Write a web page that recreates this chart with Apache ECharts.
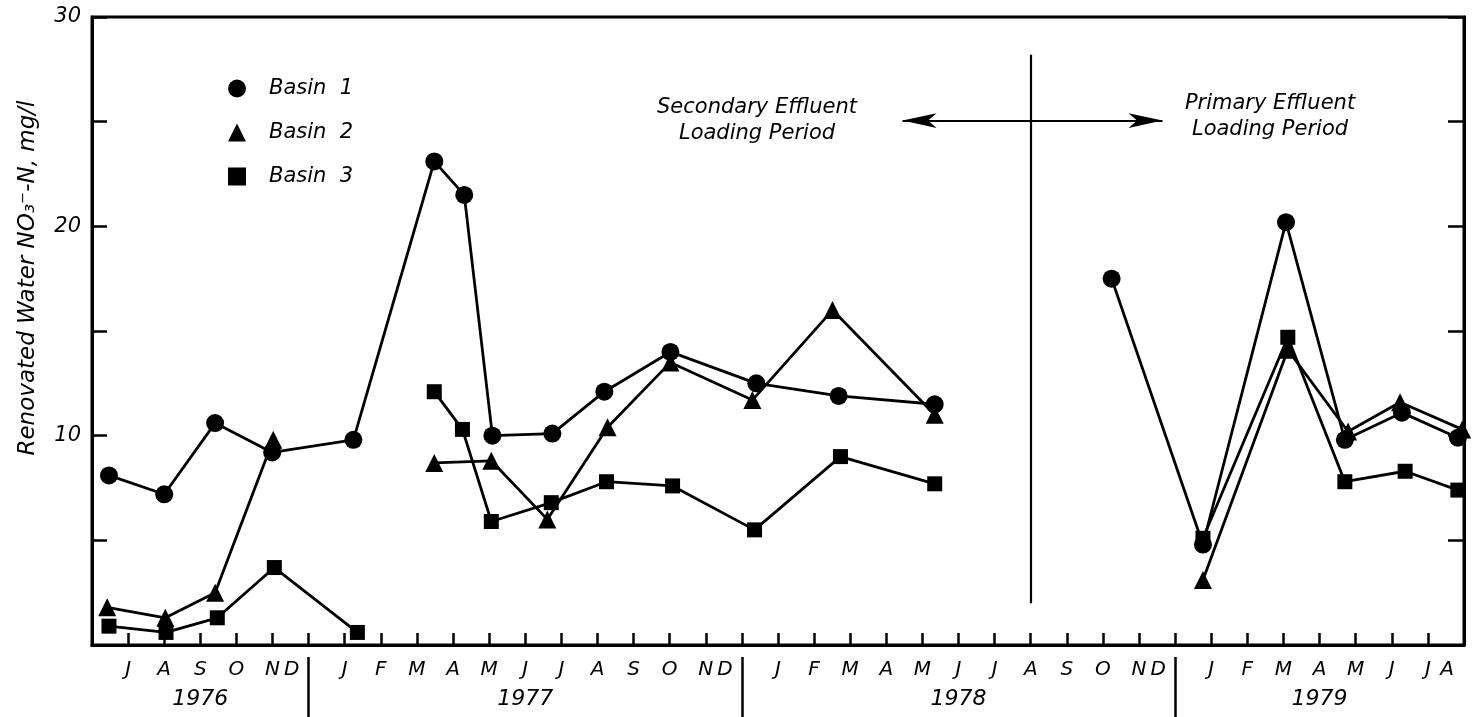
<!DOCTYPE html>
<html>
<head>
<meta charset="utf-8">
<title>Renovated Water Nitrate-N</title>
<script src="https://cdn.jsdelivr.net/npm/echarts@6/dist/echarts.min.js"></script>
<style>
  html, body { margin: 0; padding: 0; background: #fff; }
  #chart { width: 1476px; height: 717px; }
</style>
</head>
<body>
<div id="chart"></div>
<script>
// Month axis: tick 0 = July 1976 ... tick 37 = August 1979
const monthLetters = ['J','A','S','O','N','D',
  'J','F','M','A','M','J','J','A','S','O','N','D',
  'J','F','M','A','M','J','J','A','S','O','N','D',
  'J','F','M','A','M','J','J','A'];
const yearLabels = ['1976', '1977', '1978', '1979'];
const yearLabelTicks = [2, 11, 23, 33];
const yearBoundaryTicks = [5, 17, 29];

// Sampling times (in months from July 1976) and NO3-N values, mg/l; null = no line between
const basin1Time   = [-0.53, 1.0, 2.41, 3.99, 6.24, 8.48, 9.31, 10.09, 11.75, 13.19, 15.02, 17.4, 19.68, 22.34, null, 27.24, 29.77, 32.07, 33.7, 35.28, 36.83];
const basin1Values = [8.1, 7.2, 10.6, 9.2, 9.8, 23.1, 21.5, 10.0, 10.1, 12.1, 14.0, 12.5, 11.9, 11.5, null, 17.5, 4.8, 20.2, 9.8, 11.1, 9.9];

const basin2Time   = [-0.58, 1.03, 2.41, 4.02, null, 8.48, 10.06, 11.61, 13.28, 15.02, 17.29, 19.51, 22.34, null, 29.77, 32.12, 33.79, 35.23, 36.95];
const basin2Values = [1.8, 1.3, 2.5, 9.8, null, 8.7, 8.8, 6.0, 10.4, 13.5, 11.7, 16.0, 11.0, null, 3.1, 14.1, 10.2, 11.6, 10.3];

const basin3Time   = [-0.53, 1.05, 2.47, 4.05, 6.35, null, 8.48, 9.26, 10.06, 11.72, 13.25, 15.08, 17.35, 19.73, 22.34, null, 29.77, 32.12, 33.7, 35.37, 36.83];
const basin3Values = [0.9, 0.6, 1.3, 3.7, 0.6, null, 12.1, 10.3, 5.9, 6.8, 7.8, 7.6, 5.5, 9.0, 7.7, null, 5.1, 14.7, 7.8, 8.3, 7.4];

const FONT = '"DejaVu Sans", "Liberation Sans", sans-serif';
const INK = '#000';

function pairs(times, values) {
  return times.map((t, i) => [t, values[i]]);
}

function basinSeries(name, symbol, size, times, values) {
  return {
    name: name,
    type: 'line',
    data: pairs(times, values),
    symbol: symbol,
    symbolSize: size,
    connectNulls: false,
    lineStyle: { color: INK, width: 2.8 },
    itemStyle: { color: INK, borderWidth: 0 },
    emphasis: { disabled: true },
    animation: false
  };
}

const chart = echarts.init(document.getElementById('chart'), null, { renderer: 'canvas' });

const series = [
  basinSeries('Basin 1', 'circle', 18, basin1Time, basin1Values),
  basinSeries('Basin 2', 'triangle', 18, basin2Time, basin2Values),
  basinSeries('Basin 3', 'rect', 15, basin3Time, basin3Values)
];

// Loading-period divider and double-headed arrow
series[0].markLine = {
  silent: true,
  animation: false,
  label: { show: false },
  lineStyle: { color: INK, width: 2.2, type: 'solid' },
  symbolSize: [11, 34],
  data: [
    [{ coord: [25, 2.0], symbol: 'none' }, { coord: [25, 28.2], symbol: 'none' }],
    [{ coord: [21.45, 25.05], symbol: 'arrow' }, { coord: [28.65, 25.05], symbol: 'arrow' }]
  ]
};

const option = {
  backgroundColor: '#fff',
  animation: false,
  grid: {
    left: 92, right: 12, top: 17, bottom: 72,
    show: true, borderColor: INK, borderWidth: 3, backgroundColor: 'transparent'
  },
  legend: {
    left: 223, top: 73,
    orient: 'vertical',
    itemWidth: 18, itemHeight: 18, itemGap: 23,
    selectedMode: false,
    data: [
      { name: 'Basin 1', icon: 'circle' },
      { name: 'Basin 2', icon: 'triangle' },
      { name: 'Basin 3', icon: 'rect' }
    ],
    formatter: name => name.replace(' ', '  '),
    itemStyle: { color: INK },
    textStyle: {
      color: INK, fontFamily: FONT, fontStyle: 'italic', fontSize: 21,
      lineHeight: 21, padding: [0, 0, 0, 18]
    }
  },
  xAxis: [
    {
      type: 'value', min: -1, max: 37, interval: 1, position: 'bottom',
      axisLine: { show: true, onZero: false, lineStyle: { color: INK, width: 3 } },
      axisTick: { show: true, inside: true, length: 12, lineStyle: { color: INK, width: 2.5 } },
      splitLine: { show: false },
      axisLabel: {
        show: true, showMinLabel: false, showMaxLabel: true, margin: 15,
        color: INK, fontFamily: FONT, fontStyle: 'italic', fontSize: 20,
        formatter: function (v) {
          const i = Math.round(v);
          if (i < 0 || i >= monthLetters.length) return '';
          const letter = monthLetters[i];
          // December letters sit left of the year divider; the last letter sits left of the frame
          if (yearBoundaryTicks.indexOf(i) >= 0 || i === monthLetters.length - 1) {
            return '{s|' + letter + '}';
          }
          return letter;
        },
        rich: {
          s: { padding: [0, 34, 0, 0], fontFamily: FONT, fontStyle: 'italic', fontSize: 20, color: INK }
        }
      }
    },
    {
      type: 'value', min: -1, max: 37, position: 'bottom', offset: 12,
      axisLine: { show: false, onZero: false },
      axisTick: {
        show: true, inside: false, length: 72, customValues: yearBoundaryTicks,
        lineStyle: { color: INK, width: 2.5 }
      },
      splitLine: { show: false },
      axisLabel: {
        show: true, customValues: yearLabelTicks, margin: 31,
        color: INK, fontFamily: FONT, fontStyle: 'italic', fontSize: 22,
        formatter: function (v) {
          const k = yearLabelTicks.indexOf(Math.round(v));
          return k >= 0 ? yearLabels[k] : '';
        }
      }
    }
  ],
  yAxis: [
    {
      type: 'value', min: 0, max: 30, interval: 5, position: 'left',
      axisLine: { show: true, onZero: false, lineStyle: { color: INK, width: 3 } },
      axisTick: { show: true, inside: true, length: 15, lineStyle: { color: INK, width: 2.5 } },
      splitLine: { show: false },
      axisLabel: {
        margin: 11, color: INK, fontFamily: FONT, fontStyle: 'italic', fontSize: 21,
        formatter: v => (v > 0 && v % 10 === 0) ? String(v) : ''
      }
    },
    {
      type: 'value', min: 0, max: 30, interval: 5, position: 'right',
      axisLine: { show: true, onZero: false, lineStyle: { color: INK, width: 3 } },
      axisTick: { show: true, inside: true, length: 16, lineStyle: { color: INK, width: 2.5 } },
      splitLine: { show: false },
      axisLabel: { show: false }
    }
  ],
  graphic: [
    {
      type: 'text', x: 28, y: 278, rotation: Math.PI / 2, silent: true,
      style: {
        text: 'Renovated Water NO\u2083\u207B-N, mg/l',
        fill: INK, font: 'italic 23px ' + FONT,
        align: 'center', verticalAlign: 'middle'
      }
    },
    {
      type: 'text', x: 757, y: 121, silent: true,
      style: {
        text: 'Secondary Effluent\nLoading Period',
        fill: INK, font: 'italic 21px ' + FONT, lineHeight: 26,
        align: 'center', verticalAlign: 'middle'
      }
    },
    {
      type: 'text', x: 1270, y: 117, silent: true,
      style: {
        text: 'Primary Effluent\nLoading Period',
        fill: INK, font: 'italic 21px ' + FONT, lineHeight: 26,
        align: 'center', verticalAlign: 'middle'
      }
    }
  ],
  series: series
};

chart.setOption(option);
</script>
</body>
</html>
